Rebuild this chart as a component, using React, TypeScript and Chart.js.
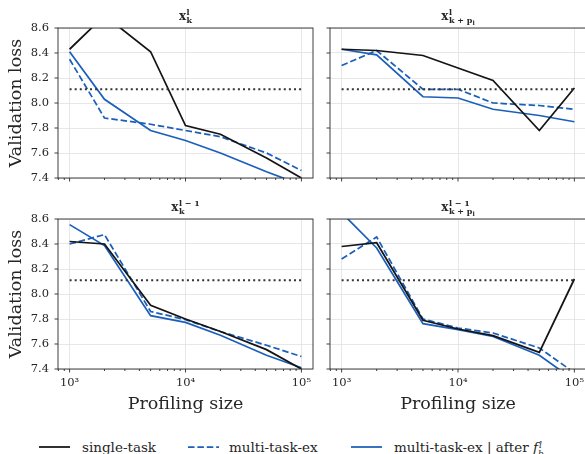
import React, { useEffect, useRef } from "react";
import { Chart, registerables } from "chart.js";
Chart.register(...registerables);

// ---------------- data ----------------
const profilingSizes = [1000, 2000, 5000, 10000, 20000, 50000, 100000];
const baselineLoss = 8.11;
const yTickValues = [7.4, 7.6, 7.8, 8.0, 8.2, 8.4, 8.6];
const xMajorTicks = [1000, 10000, 100000];
const xTickLabels = ["10³", "10⁴", "10⁵"];

// panel x_k^l
const singleKL = [8.43, 8.7, 8.41, 7.82, 7.75, 7.56, 7.4];
const multiKL = [8.35, 7.88, 7.83, 7.78, 7.73, 7.6, 7.46];
const afterKL = [8.41, 8.03, 7.78, 7.7, 7.6, 7.45, 7.345];
// panel x_{k+p_l}^l
const singleKPL = [8.43, 8.42, 8.38, 8.28, 8.18, 7.78, 8.12];
const multiKPL = [8.3, 8.42, 8.11, 8.11, 8.0, 7.98, 7.95];
const afterKPL = [8.43, 8.385, 8.05, 8.04, 7.95, 7.9, 7.85];
// panel x_k^{l-1}
const singleKL1 = [8.42, 8.4, 7.91, 7.8, 7.7, 7.555, 7.4];
const multiKL1 = [8.4, 8.475, 7.86, 7.795, 7.7, 7.59, 7.5];
const afterKL1 = [8.555, 8.387, 7.827, 7.773, 7.67, 7.51, 7.41];
// panel x_{k+p_l}^{l-1}
const singleKPL1 = [8.38, 8.41, 7.79, 7.72, 7.667, 7.533, 8.12];
const multiKPL1 = [8.28, 8.456, 7.8, 7.728, 7.688, 7.568, 7.37];
const afterKPL1 = [8.65, 8.368, 7.763, 7.715, 7.66, 7.51, 7.31];

const seriesLabels = ["single-task", "multi-task-ex", "multi-task-ex | after f_b^l"];
const yAxisTitle = "Validation loss";
const xAxisTitle = "Profiling size";

// ---------------- styles ----------------
const BLUE = "#1b5fbb";
const BLACK = "#141414";
const DOTTED = "#333333";
const GRID = "#e1e1e1";
const FRAME = "#2a2a2a";
const TEXT = "#262626";
const SERIF = '"DejaVu Serif", serif';
const LW = 1.75;
const DASH = [6.5, 2.9];

const X_MIN = Math.pow(10, 2.9);
const X_MAX = Math.pow(10, 5.1);

const xTickAll: number[] = [];
for (let d = 2; d <= 5; d++) {
  for (let m = 1; m <= 9; m++) {
    const v = m * Math.pow(10, d);
    if (v >= X_MIN && v <= X_MAX) xTickAll.push(v);
  }
}
const isMajor = (v: number) => xMajorTicks.some((m) => Math.abs(m - v) < 1e-6 * m);

type Title = { sup: string; sub: string; subsub?: string };

const framePlugin = {
  id: "frameTicks",
  afterDraw(chart: any) {
    const { ctx, chartArea: a, scales } = chart;
    const title: Title = chart.options.plugins.panelTitle;
    ctx.save();
    ctx.strokeStyle = FRAME;
    ctx.lineWidth = 0.9;
    for (const v of xTickAll) {
      const px = scales.x.getPixelForValue(v);
      const len = isMajor(v) ? 3.5 : 2;
      ctx.beginPath();
      ctx.moveTo(px, a.bottom);
      ctx.lineTo(px, a.bottom + len);
      ctx.stroke();
    }
    for (const v of yTickValues) {
      const py = scales.y.getPixelForValue(v);
      ctx.beginPath();
      ctx.moveTo(a.left - 3.5, py);
      ctx.lineTo(a.left, py);
      ctx.stroke();
    }
    ctx.strokeRect(a.left, a.top, a.right - a.left, a.bottom - a.top);

    if (title) {
      ctx.fillStyle = TEXT;
      ctx.textBaseline = "alphabetic";
      ctx.textAlign = "left";
      const baseFont = `bold 12px ${SERIF}`;
      const scFont = `bold 8px ${SERIF}`;
      const ssFont = `bold 6px ${SERIF}`;
      ctx.font = baseFont;
      const bw = ctx.measureText("x").width;
      ctx.font = scFont;
      const supW = ctx.measureText(title.sup).width;
      let subW = ctx.measureText(title.sub).width;
      ctx.font = ssFont;
      const ssW = title.subsub ? ctx.measureText(title.subsub).width : 0;
      subW += ssW;
      const total = bw + 0.5 + Math.max(supW, subW);
      const cx = (a.left + a.right) / 2;
      const x0 = cx - total / 2;
      const by = a.top - 8;
      ctx.font = baseFont;
      ctx.fillText("x", x0, by);
      const sx = x0 + bw + 0.5;
      ctx.font = scFont;
      ctx.fillText(title.sup, sx, by - 5.5);
      ctx.fillText(title.sub, sx, by + 2.5);
      if (title.subsub) {
        const w = ctx.measureText(title.sub).width;
        ctx.font = ssFont;
        ctx.fillText(title.subsub, sx + w, by + 4.5);
      }
    }
    ctx.restore();
  },
};

type Panel = {
  left: number;
  top: number;
  width: number;
  height: number;
  yWidth: number;
  padTop: number;
  padRight: number;
  xHeight: number;
  showY: boolean;
  showX: boolean;
  title: Title;
  single: number[];
  multi: number[];
  after: number[];
};

const panels: Panel[] = [
  { left: 0, top: 0, width: 322, height: 200, yWidth: 58, padTop: 28, padRight: 9, xHeight: 22, showY: true, showX: false,
    title: { sup: "l", sub: "k" }, single: singleKL, multi: multiKL, after: afterKL },
  { left: 322, top: 0, width: 273, height: 200, yWidth: 8, padTop: 28, padRight: 9, xHeight: 22, showY: false, showX: false,
    title: { sup: "l", sub: "k + p", subsub: "l" }, single: singleKPL, multi: multiKPL, after: afterKPL },
  { left: 0, top: 190, width: 322, height: 230, yWidth: 58, padTop: 29, padRight: 9, xHeight: 51, showY: true, showX: true,
    title: { sup: "l − 1", sub: "k" }, single: singleKL1, multi: multiKL1, after: afterKL1 },
  { left: 322, top: 190, width: 273, height: 230, yWidth: 8, padTop: 29, padRight: 9, xHeight: 51, showY: false, showX: true,
    title: { sup: "l − 1", sub: "k + p", subsub: "l" }, single: singleKPL1, multi: multiKPL1, after: afterKPL1 },
];

function PanelChart({ p }: { p: Panel }) {
  const ref = useRef<HTMLCanvasElement>(null);
  useEffect(() => {
    if (!ref.current) return;
    const toXY = (arr: number[]) => arr.map((y, i) => ({ x: profilingSizes[i], y }));
    const baseline = [
      { x: profilingSizes[0], y: baselineLoss },
      { x: profilingSizes[profilingSizes.length - 1], y: baselineLoss },
    ];
    const chart = new Chart(ref.current, {
      type: "line",
      data: {
        datasets: [
          { data: baseline, borderColor: DOTTED, borderWidth: 2, borderDash: [2, 3.1], borderCapStyle: "butt", pointRadius: 0, clip: 0 } as any,
          { label: seriesLabels[0], data: toXY(p.single), borderColor: BLACK, borderWidth: LW, pointRadius: 0, clip: 0 } as any,
          { label: seriesLabels[1], data: toXY(p.multi), borderColor: BLUE, borderWidth: LW, borderDash: DASH, pointRadius: 0, clip: 0 } as any,
          { label: seriesLabels[2], data: toXY(p.after), borderColor: BLUE, borderWidth: LW, pointRadius: 0, clip: 0 } as any,
        ],
      },
      options: {
        animation: false,
        responsive: false,
        devicePixelRatio: 1,
        events: [],
        layout: { autoPadding: false, padding: { top: p.padTop, right: p.padRight, left: 0, bottom: 0 } },
        elements: { line: { tension: 0 }, point: { radius: 0 } },
        plugins: {
          legend: { display: false },
          tooltip: { enabled: false },
          title: { display: false },
          panelTitle: p.title,
        } as any,
        scales: {
          x: {
            type: "logarithmic",
            min: X_MIN,
            max: X_MAX,
            afterBuildTicks: (s: any) => {
              s.ticks = xTickAll.map((v) => ({ value: v }));
            },
            afterFit: (s: any) => {
              s.height = p.xHeight;
            },
            ticks: {
              display: p.showX,
              autoSkip: false,
              maxRotation: 0,
              minRotation: 0,
              padding: 7,
              color: TEXT,
              font: { family: SERIF, size: 11.5 },
              callback: (v: any) => {
                const idx = xMajorTicks.findIndex((m) => Math.abs(m - Number(v)) < 1e-6 * m);
                return idx >= 0 ? xTickLabels[idx] : "";
              },
            },
            grid: {
              drawTicks: false,
              lineWidth: 0.8,
              color: (c: any) => (c.tick && isMajor(c.tick.value) ? GRID : "rgba(0,0,0,0)"),
            },
            border: { display: false },
            title: {
              display: p.showX,
              text: xAxisTitle,
              color: TEXT,
              font: { family: SERIF, size: 17.5 },
              padding: { top: 0, bottom: 5.5 },
            },
          } as any,
          y: {
            type: "linear",
            min: 7.4,
            max: 8.6,
            afterBuildTicks: (s: any) => {
              s.ticks = yTickValues.map((v) => ({ value: v }));
            },
            afterFit: (s: any) => {
              s.width = p.yWidth;
            },
            ticks: {
              display: p.showY,
              padding: 9,
              color: TEXT,
              font: { family: SERIF, size: 11.5 },
              callback: (v: any) => Number(v).toFixed(1),
            },
            grid: { drawTicks: false, lineWidth: 0.8, color: GRID },
            border: { display: false },
            title: {
              display: p.showY,
              text: yAxisTitle,
              color: TEXT,
              font: { family: SERIF, size: 17.5 },
              padding: { top: 6, bottom: 0 },
            },
          } as any,
        },
      },
      plugins: [framePlugin],
    });
    return () => chart.destroy();
  }, [p]);
  return (
    <canvas
      ref={ref}
      width={p.width}
      height={p.height}
      style={{ position: "absolute", left: p.left, top: p.top, width: p.width, height: p.height }}
    />
  );
}

function LegendLine({ left, dashed, color }: { left: number; dashed?: boolean; color: string }) {
  return (
    <svg style={{ position: "absolute", left, top: 440 }} width={31} height={14}>
      <line x1={0} y1={7} x2={31} y2={7} stroke={color} strokeWidth={LW} strokeDasharray={dashed ? DASH.join(" ") : undefined} />
    </svg>
  );
}

const legendText: React.CSSProperties = {
  position: "absolute",
  top: 438,
  fontFamily: SERIF,
  fontSize: 13.5,
  lineHeight: "18px",
  color: TEXT,
  whiteSpace: "nowrap",
};

export default function App() {
  return (
    <div style={{ position: "absolute", left: 0, top: 0, width: 585, height: 454, overflow: "hidden", background: "#fff" }}>
      {panels.map((p, i) => (
        <PanelChart key={i} p={p} />
      ))}
      <LegendLine left={39} color={BLACK} />
      <span style={{ ...legendText, left: 82 }}>{seriesLabels[0]}</span>
      <LegendLine left={188} color={BLUE} dashed />
      <span style={{ ...legendText, left: 229 }}>{seriesLabels[1]}</span>
      <LegendLine left={351} color={BLUE} />
      <span style={{ ...legendText, left: 394 }}>
        multi-task-ex | after <i>f</i>
        <span style={{ position: "relative", display: "inline-block", width: 7, height: 10 }}>
          <i style={{ position: "absolute", left: 1, top: -6, fontSize: 9 }}>l</i>
          <i style={{ position: "absolute", left: 0, top: 3, fontSize: 9 }}>b</i>
        </span>
      </span>
    </div>
  );
}
